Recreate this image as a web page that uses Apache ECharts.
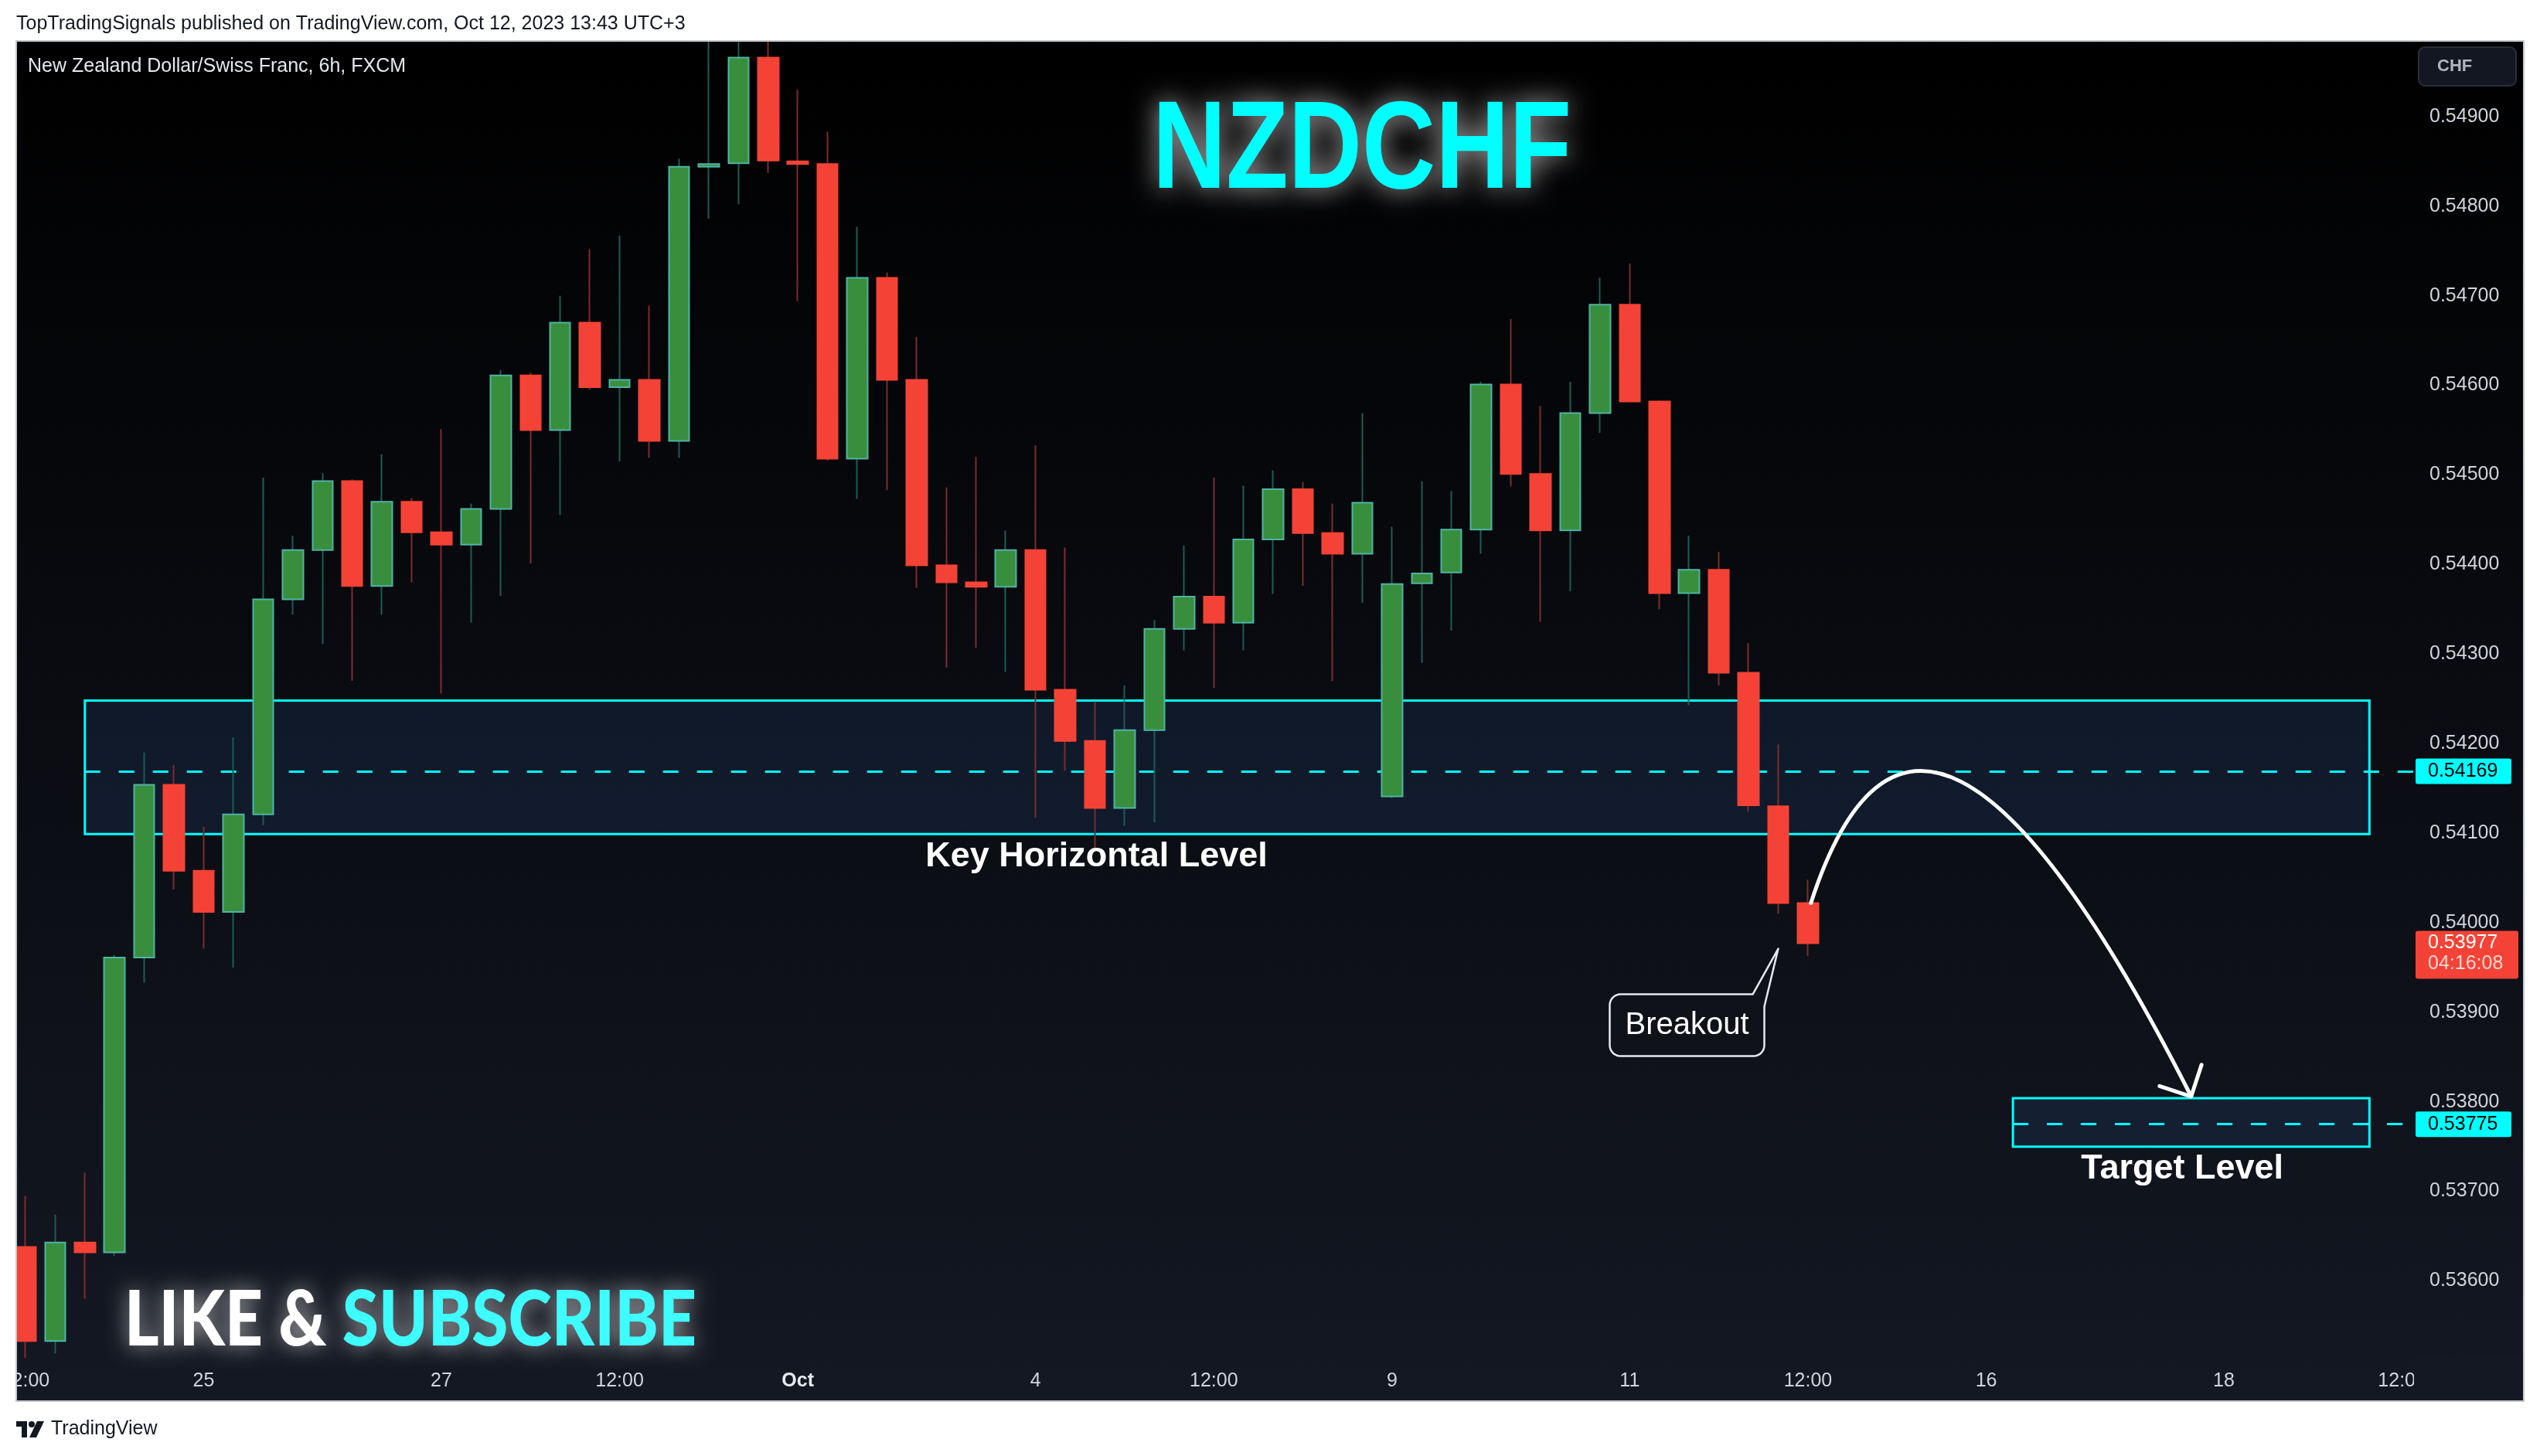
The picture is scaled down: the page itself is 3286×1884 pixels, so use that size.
<!DOCTYPE html>
<html>
<head>
<meta charset="utf-8">
<title>NZDCHF 6h</title>
<script src="https://cdn.jsdelivr.net/npm/echarts@6/dist/echarts.min.js"></script>
<style>
html,body{margin:0;padding:0;background:#ffffff;}
#chart{width:3286px;height:1884px;}
</style>
</head>
<body>
<div id="chart"></div>
<script>
// ---------------- data ----------------
const timeLabelIndex = [0, 6, 14, 20, 26, 34, 40, 46, 54, 60, 66, 74, 80];
const timeLabels = ['12:00', '25', '27', '12:00', 'Oct', '4', '12:00', '9', '11', '12:00', '16', '18', '12:00'];

const opens = [0.53638,0.53533,0.53643,0.53632,0.53961,0.54154,0.54058,0.54012,0.54121,0.54361,
0.54416,0.54493,0.54376,0.54470,0.54436,0.54422,0.54462,0.54611,0.54550,0.54670,
0.54598,0.54606,0.54538,0.54844,0.54848,0.54966,0.54850,0.54847,0.54518,0.54720,
0.54606,0.54399,0.54380,0.54375,0.54416,0.54260,0.54203,0.54128,0.54215,0.54328,
0.54364,0.54335,0.54428,0.54484,0.54435,0.54412,0.54141,0.54379,0.54391,0.54439,
0.54601,0.54501,0.54438,0.54569,0.54690,0.54582,0.54368,0.54394,0.54279,0.54130,
0.54022];
const highs = [0.53695,0.53674,0.53721,0.53964,0.54190,0.54176,0.54107,0.54207,0.54497,0.54432,
0.54502,0.54495,0.54523,0.54474,0.54551,0.54468,0.54617,0.54614,0.54700,0.54752,
0.54767,0.54689,0.54853,0.55000,0.55000,0.54995,0.54930,0.54883,0.54777,0.54726,
0.54654,0.54486,0.54520,0.54438,0.54533,0.54419,0.54247,0.54265,0.54338,0.54421,
0.54497,0.54488,0.54505,0.54492,0.54468,0.54569,0.54442,0.54493,0.54482,0.54604,
0.54674,0.54577,0.54604,0.54720,0.54736,0.54583,0.54432,0.54414,0.54312,0.54199,
0.54048];
const lows = [0.53514,0.53519,0.53580,0.53628,0.53933,0.54037,0.53971,0.53950,0.54109,0.54344,
0.54311,0.54270,0.54344,0.54380,0.54256,0.54335,0.54365,0.54401,0.54455,0.54595,
0.54515,0.54519,0.54519,0.54786,0.54802,0.54837,0.54694,0.54516,0.54473,0.54483,
0.54374,0.54285,0.54307,0.54280,0.54117,0.54170,0.54082,0.54108,0.54112,0.54304,
0.54262,0.54304,0.54367,0.54376,0.54270,0.54357,0.54139,0.54290,0.54326,0.54412,
0.54487,0.54336,0.54370,0.54547,0.54581,0.54350,0.54243,0.54265,0.54124,0.54010,
0.53963];
const closes = [0.53533,0.53643,0.53632,0.53961,0.54154,0.54058,0.54012,0.54121,0.54361,0.54416,
0.54493,0.54376,0.54470,0.54436,0.54422,0.54462,0.54611,0.54550,0.54670,0.54598,
0.54606,0.54538,0.54844,0.54847,0.54966,0.54851,0.54847,0.54518,0.54720,0.54606,
0.54399,0.54380,0.54375,0.54416,0.54260,0.54203,0.54128,0.54215,0.54328,0.54364,
0.54335,0.54428,0.54484,0.54435,0.54412,0.54469,0.54378,0.54390,0.54439,0.54601,
0.54501,0.54438,0.54569,0.54690,0.54582,0.54368,0.54394,0.54279,0.54131,0.54022,
0.53977];

const priceTicks = [0.536,0.537,0.538,0.539,0.540,0.541,0.542,0.543,0.544,0.545,0.546,0.547,0.548,0.549];

const keyZone = [0.54099, 0.54248];
const keyZoneSpan = [2, 78.9];
const keyLevel = 0.54169;
const targetZone = [0.53750, 0.53804];
const targetZoneSpan = [66.9, 78.9];
const targetLevel = 0.53775;
const lastPrice = 0.53977;
const countdown = '04:16:08';
const arrowPoints = [[60.1, 0.54022], [63.8, 0.54401], [72.9, 0.53806]]; // start, control, end
const breakoutTip = [59.0, 0.53971];
const keyLabelAnchor = [36.05, keyZone[0]];
const targetLabelAnchor = [72.6, targetZone[0]];

// ---------------- chart ----------------
const W = 3286, H = 1884;
const PANEL = {x: 21, y: 53, r: 3265, b: 1813};
const PLOT = {l: 21, t: 54, r: 3123, b: 1756};
const xMin = -0.31, xMax = 80.4, yMin = 0.53515, yMax = 0.549836;

const chart = echarts.init(document.getElementById('chart'), null, {renderer: 'canvas', width: W, height: H});

const wickData = opens.map((o, i) => [i, o, closes[i], lows[i], highs[i]]);
const bodyData = opens.map((o, i) => [i, o, closes[i], Math.min(o, closes[i]), Math.max(o, closes[i])]);

const axisFont = '"Liberation Sans", Arial, sans-serif';

const option = {
  backgroundColor: '#ffffff',
  animation: false,
  grid: {
    left: PLOT.l, top: PLOT.t, right: W - PLOT.r, bottom: H - PLOT.b,
    containLabel: false, outerBoundsMode: 'none', show: false
  },
  xAxis: {
    type: 'value', min: xMin, max: xMax,
    axisLine: {show: false}, axisTick: {show: false}, splitLine: {show: false},
    axisLabel: {
      customValues: timeLabelIndex,
      color: '#d1d4dc', fontSize: 25, fontFamily: axisFont, margin: 19,
      formatter: function (v) {
        const k = timeLabelIndex.indexOf(Math.round(v));
        const t = k >= 0 ? timeLabels[k] : '';
        return t === 'Oct' ? '{b|Oct}' : t;
      },
      rich: {b: {fontWeight: 'bold', fontSize: 25, color: '#e8eaf0', fontFamily: axisFont}}
    }
  },
  yAxis: {
    type: 'value', position: 'right', min: yMin, max: yMax, scale: true,
    axisLine: {show: false}, axisTick: {show: false}, splitLine: {show: false},
    axisLabel: {
      customValues: priceTicks,
      color: '#d1d4dc', fontSize: 25, fontFamily: axisFont, margin: 20,
      formatter: v => v.toFixed(5)
    }
  },
  series: [
    {
      name: 'wicks', type: 'candlestick', z: 4, silent: true, clip: true,
      barWidth: 1,
      data: wickData,
      itemStyle: {color: '#1c5c54', color0: '#7d2c2c', borderColor: '#1c5c54', borderColor0: '#7d2c2c', borderWidth: 2},
      emphasis: {disabled: true}
    },
    {
      name: 'NZDCHF', type: 'candlestick', z: 5, silent: true, clip: true,
      barWidth: 27,
      data: bodyData,
      itemStyle: {color: '#388e3c', color0: '#f44336', borderColor: '#4fb3a6', borderColor0: '#f44336', borderWidth: 2},
      emphasis: {disabled: true},
      markArea: {
        silent: true, z: 1,
        itemStyle: {color: 'rgba(42,78,140,0.2)', borderColor: '#00ffff', borderWidth: 3},
        data: [
          [{coord: [keyZoneSpan[0], keyZone[1]]}, {coord: [keyZoneSpan[1], keyZone[0]]}],
          [{coord: [targetZoneSpan[0], targetZone[1]]}, {coord: [targetZoneSpan[1], targetZone[0]]}]
        ]
      },
      markLine: {
        silent: true, z: 2, symbol: ['none', 'none'],
        label: {show: false},
        lineStyle: {color: '#00ffff', width: 3, type: [20, 24]},
        data: [
          [{coord: [keyZoneSpan[0], keyLevel]}, {coord: [xMax, keyLevel]}],
          [{coord: [targetZoneSpan[0], targetLevel]}, {coord: [xMax, targetLevel]}]
        ]
      }
    }
  ]
};
chart.setOption(option);

// ---------------- annotations (positioned through the chart's own scales) ----------------
const P = (pt) => chart.convertToPixel({gridIndex: 0}, pt);
const mctx = document.createElement('canvas').getContext('2d');
const measure = (font, s) => { mctx.font = font; return mctx.measureText(s).width; };

const g = [];

// panel background
g.push({
  type: 'rect', z: -10, silent: true,
  shape: {x: PANEL.x, y: PANEL.y, width: PANEL.r - PANEL.x, height: PANEL.b - PANEL.y},
  style: {fill: {type: 'linear', x: 0, y: 0, x2: 0, y2: 1, colorStops: [
    {offset: 0, color: '#000000'}, {offset: 1, color: '#141823'}]}}
});
// covers: clip candles / labels at the panel edges
g.push({type: 'rect', z: 60, silent: true, shape: {x: 0, y: 0, width: W, height: PANEL.y}, style: {fill: '#ffffff'}});
g.push({type: 'rect', z: 60, silent: true, shape: {x: 0, y: 0, width: PANEL.x, height: H}, style: {fill: '#ffffff'}});
g.push({type: 'rect', z: 60, silent: true, shape: {x: PLOT.r, y: PLOT.b, width: PANEL.r - PLOT.r, height: PANEL.b - PLOT.b}, style: {fill: '#141823'}});
// panel border
g.push({
  type: 'rect', z: 70, silent: true,
  shape: {x: PANEL.x, y: PANEL.y, width: PANEL.r - PANEL.x, height: PANEL.b - PANEL.y},
  style: {fill: null, stroke: '#c3c6ce', lineWidth: 2}
});

// header texts
g.push({type: 'text', z: 70, x: 21, y: 31, style: {text: 'TopTradingSignals published on TradingView.com, Oct 12, 2023 13:43 UTC+3',
  font: '25px ' + axisFont, fill: '#131722', textVerticalAlign: 'middle'}});
g.push({type: 'text', z: 70, x: 36, y: 86, style: {text: 'New Zealand Dollar/Swiss Franc, 6h, FXCM',
  font: '25px ' + axisFont, fill: '#e6e8ee', textVerticalAlign: 'middle'}});

// footer logo
g.push({type: 'rect', z: 70, silent: true, shape: {x: 21, y: 1839, width: 14, height: 7}, style: {fill: '#131722'}});
g.push({type: 'rect', z: 70, silent: true, shape: {x: 28, y: 1839, width: 7, height: 21}, style: {fill: '#131722'}});
g.push({type: 'circle', z: 70, silent: true, shape: {cx: 41, cy: 1843, r: 4}, style: {fill: '#131722'}});
g.push({type: 'polygon', z: 70, silent: true, shape: {points: [[48, 1839], [57, 1839], [47, 1860], [38, 1860]]}, style: {fill: '#131722'}});
g.push({type: 'text', z: 70, x: 66, y: 1849, style: {text: 'TradingView', font: '500 25px ' + axisFont, fill: '#131722', textVerticalAlign: 'middle'}});

// currency button
g.push({type: 'rect', z: 70, silent: true, shape: {x: 3129, y: 61, width: 126, height: 50, r: 8}, style: {fill: '#131722', stroke: '#2a2e39', lineWidth: 2}});
g.push({type: 'text', z: 71, x: 3153, y: 86, style: {text: 'CHF', font: '600 22px ' + axisFont, fill: '#b2b5be', textVerticalAlign: 'middle'}});

// price tags
function priceTag(value, bg, fg, width) {
  const py = P([xMax, value])[1];
  g.push({type: 'rect', z: 80, silent: true, shape: {x: PLOT.r + 2, y: py - 16.5, width: width, height: 33, r: 3}, style: {fill: bg}});
  g.push({type: 'text', z: 81, x: PLOT.r + 18, y: py, style: {text: value.toFixed(5), font: '25px ' + axisFont, fill: fg, textVerticalAlign: 'middle'}});
}
priceTag(keyLevel, '#00ffff', '#000000', 124);
priceTag(targetLevel, '#00ffff', '#000000', 124);
(function () {
  const py = P([xMax, lastPrice])[1];
  g.push({type: 'rect', z: 80, silent: true, shape: {x: PLOT.r + 2, y: py - 16, width: 133, height: 62, r: 3}, style: {fill: '#f44336'}});
  g.push({type: 'text', z: 81, x: PLOT.r + 18, y: py, style: {text: lastPrice.toFixed(5), font: '25px ' + axisFont, fill: '#ffffff', textVerticalAlign: 'middle'}});
  g.push({type: 'text', z: 81, x: PLOT.r + 18, y: py + 27, style: {text: countdown, font: '25px ' + axisFont, fill: 'rgba(255,255,255,0.78)', textVerticalAlign: 'middle'}});
})();

// zone labels
(function () {
  const k = P(keyLabelAnchor);
  g.push({type: 'text', z: 30, x: k[0], y: k[1] + 29, style: {text: 'Key Horizontal Level', font: 'bold 45px ' + axisFont, fill: '#ffffff', textAlign: 'center', textVerticalAlign: 'middle'}});
  const t = P(targetLabelAnchor);
  g.push({type: 'text', z: 30, x: t[0], y: t[1] + 29, style: {text: 'Target Level', font: 'bold 45px ' + axisFont, fill: '#ffffff', textAlign: 'center', textVerticalAlign: 'middle'}});
})();

// curved arrow
(function () {
  const s = P(arrowPoints[0]), c = P(arrowPoints[1]), e = P(arrowPoints[2]);
  g.push({type: 'bezierCurve', z: 30, silent: true,
    shape: {x1: s[0], y1: s[1], cpx1: c[0], cpy1: c[1], x2: e[0], y2: e[1]},
    style: {stroke: '#ffffff', lineWidth: 5, fill: null, lineCap: 'round'}});
  const dx = e[0] - c[0], dy = e[1] - c[1], len = Math.hypot(dx, dy);
  const ux = -dx / len, uy = -dy / len, L = 43, a = Math.PI / 4;
  const r1 = [ux * Math.cos(a) - uy * Math.sin(a), ux * Math.sin(a) + uy * Math.cos(a)];
  const r2 = [ux * Math.cos(-a) - uy * Math.sin(-a), ux * Math.sin(-a) + uy * Math.cos(-a)];
  g.push({type: 'polyline', z: 30, silent: true,
    shape: {points: [[e[0] + r1[0] * L, e[1] + r1[1] * L], [e[0], e[1]], [e[0] + r2[0] * L, e[1] + r2[1] * L]]},
    style: {stroke: '#ffffff', lineWidth: 5, fill: null, lineCap: 'round', lineJoin: 'round'}});
})();

// Breakout callout (rounded box with a tail pointing to the breakout candle)
(function () {
  const tp = P(breakoutTip);
  const tx = tp[0], ty = tp[1];
  const l = tx - 218, r = tx - 18, t = ty + 59, b = ty + 139, rad = 14;
  const pts = [];
  const arc = (cx, cy, a0, a1) => {
    for (let k = 0; k <= 8; k++) {
      const th = a0 + (a1 - a0) * k / 8;
      pts.push([cx + rad * Math.cos(th), cy + rad * Math.sin(th)]);
    }
  };
  arc(l + rad, t + rad, Math.PI, 1.5 * Math.PI);
  pts.push([tx - 33, t], [tx, ty], [r, ty + 75]);
  arc(r - rad, b - rad, 0, 0.5 * Math.PI);
  arc(l + rad, b - rad, 0.5 * Math.PI, Math.PI);
  g.push({type: 'polygon', z: 30, silent: true, shape: {points: pts}, style: {fill: '#0f1219', stroke: '#e6e8ee', lineWidth: 2.5, lineJoin: 'round'}});
  g.push({type: 'text', z: 31, x: (l + r) / 2, y: (t + b) / 2, style: {text: 'Breakout', font: '40px ' + axisFont, fill: '#ffffff', textAlign: 'center', textVerticalAlign: 'middle'}});
})();

// NZDCHF title
(function () {
  const font = 'bold 162px "Liberation Sans", Arial, sans-serif';
  const w = measure(font, 'NZDCHF');
  g.push({type: 'text', z: 40, x: 1762, y: 198, scaleX: 542 / w, scaleY: 1,
    style: {text: 'NZDCHF', font: font, fill: '#00ffff', textAlign: 'center', textVerticalAlign: 'middle',
      textShadowColor: 'rgba(210,210,210,0.85)', textShadowBlur: 34}});
})();

// LIKE & SUBSCRIBE
(function () {
  const font = '900 99px Lato, "Liberation Sans", sans-serif';
  const w1 = measure(font, 'LIKE & ');
  const w2 = measure(font, 'SUBSCRIBE');
  const s = 740 / (w1 + w2);
  g.push({type: 'text', z: 40, x: 161, y: 1709, scaleX: s, scaleY: 1,
    style: {text: 'LIKE & ', font: font, fill: '#ffffff', textVerticalAlign: 'middle',
      textShadowColor: 'rgba(190,190,190,0.9)', textShadowBlur: 28}});
  g.push({type: 'text', z: 40, x: 161 + w1 * s, y: 1709, scaleX: s, scaleY: 1,
    style: {text: 'SUBSCRIBE', font: font, fill: '#3ffcff', textVerticalAlign: 'middle',
      textShadowColor: 'rgba(190,190,190,0.9)', textShadowBlur: 28}});
})();

chart.setOption({graphic: {elements: g}});
</script>
</body>
</html>
